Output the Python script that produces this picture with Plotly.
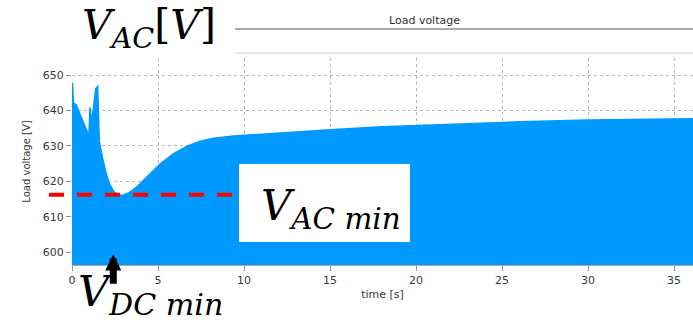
import plotly.graph_objects as go

# Load-voltage envelope (upper edge of the AC waveform), time in s, voltage in V
time_s = [0.0, 0.07, 0.10, 0.13, 0.27, 0.5, 0.7, 0.95, 1.0, 1.08, 1.15, 1.34, 1.53,
          1.57, 1.63, 1.82, 2.02, 2.21, 2.5, 2.89, 3.27, 3.76, 4.34, 5.12, 5.89,
          6.67, 7.44, 8.22, 9.38, 10.0, 12.0, 15.0, 18.0, 22.0, 26.0, 30.0, 33.0, 36.1]
voltage_v = [647.8, 647.8, 645.0, 642.2, 641.8, 639.1, 636.8, 633.8, 640.8, 640.9, 638.5,
             646.3, 647.3, 636.4, 631.3, 626.6, 622.4, 619.4, 617.0, 616.2, 616.9,
             618.7, 621.5, 625.2, 628.0, 630.1, 631.5, 632.4, 633.0, 633.2, 634.0,
             634.8, 635.6, 636.4, 637.0, 637.5, 637.7, 637.9]

x_ticks = [0, 5, 10, 15, 20, 25, 30, 35]
y_ticks = [600, 610, 620, 630, 640, 650]
X_RANGE = [0, 36.1]
Y_RANGE = [596.4, 654.8]

VAC_MIN = 616.2      # minimum AC voltage marked with the dashed line
T_VDC_MIN = 2.4      # time of the DC-link minimum marked with the arrow

W, H = 693, 325
L, R, T, B = 72, 0, 58, 60
PW, PH = W - L - R, H - T - B


def px_x(p):
    return (p - L) / PW


def px_y(p):
    return (H - B - p) / PH


def data_y(v):
    return (v - Y_RANGE[0]) / (Y_RANGE[1] - Y_RANGE[0])


BLUE = "#0099ff"
TXT = "#383838"
GRID = "#b8b8b8"
MATH = "DejaVu Serif"

fig = go.Figure()
fig.add_trace(go.Scatter(
    x=time_s, y=voltage_v, mode="lines", fill="tozeroy",
    line=dict(color=BLUE, width=0), fillcolor=BLUE, hoverinfo="skip",
    showlegend=False,
))

axis_common = dict(
    showgrid=True, gridcolor=GRID, griddash="dot", gridwidth=1,
    ticks="outside", ticklen=5, tickcolor="#909090",
    tickfont=dict(family="DejaVu Sans", size=11, color=TXT),
    zeroline=False,
)

fig.update_layout(
    width=W, height=H,
    margin=dict(l=L, r=R, t=T, b=B, pad=0),
    paper_bgcolor="white", plot_bgcolor="white",
    xaxis=dict(range=X_RANGE, tickvals=x_ticks,
               showline=True, linecolor="#a8a8a8", linewidth=1,
               title=dict(text="time [s]", standoff=4,
                          font=dict(family="DejaVu Sans", size=11, color=TXT)),
               **axis_common),
    yaxis=dict(range=Y_RANGE, tickvals=y_ticks, showline=False,
               title=dict(text="Load voltage [V]", standoff=10,
                          font=dict(family="DejaVu Sans", size=10, color=TXT)),
               **axis_common),
)

shapes = []
# title frame rules
shapes.append(dict(type="line", xref="paper", yref="paper",
                   x0=px_x(235), x1=px_x(693), y0=px_y(29), y1=px_y(29),
                   line=dict(color="#8c8c8c", width=1.5)))
shapes.append(dict(type="line", xref="paper", yref="paper",
                   x0=px_x(235), x1=px_x(693), y0=px_y(53), y1=px_y(53),
                   line=dict(color="#dcdcdc", width=1.5)))
# dashed level of the AC minimum
shapes.append(dict(type="line", xref="paper", yref="paper",
                   x0=px_x(49), x1=px_x(238), y0=data_y(VAC_MIN), y1=data_y(VAC_MIN),
                   line=dict(color="#ff0000", width=4, dash="15px,13px")))
# white label box
shapes.append(dict(type="rect", xref="paper", yref="paper",
                   x0=px_x(239), x1=px_x(410), y0=px_y(242), y1=px_y(164),
                   fillcolor="white", line=dict(width=0), layer="above"))
fig.update_layout(shapes=shapes)

annotations = [
    dict(text="Load voltage", xref="paper", yref="paper", x=px_x(424), y=px_y(20),
         xanchor="center", yanchor="middle", showarrow=False,
         font=dict(family="DejaVu Sans", size=11, color="#303030")),
    dict(text="<i>V</i><sub><i>AC</i></sub>[<i>V</i>]", xref="paper", yref="paper",
         x=px_x(80), y=px_y(28), xanchor="left", yanchor="middle", showarrow=False,
         font=dict(family=MATH, size=41, color="black")),
    dict(text="<i>V</i><sub><i>AC min</i></sub>", xref="paper", yref="paper",
         x=px_x(259), y=px_y(208), xanchor="left", yanchor="middle", showarrow=False,
         font=dict(family=MATH, size=42, color="black")),
    dict(text="<i>V</i><sub><i>DC min</i></sub>", xref="paper", yref="paper",
         x=px_x(76), y=px_y(294), xanchor="left", yanchor="middle", showarrow=False,
         font=dict(family=MATH, size=43, color="black")),
    dict(text="", x=T_VDC_MIN, y=599.4, xref="x", yref="y", showarrow=True,
         ax=0, ay=31, axref="pixel", ayref="pixel",
         arrowhead=2, arrowwidth=7, arrowsize=0.46, arrowcolor="black"),
]
fig.update_layout(annotations=annotations)

fig.write_html("out.html")
